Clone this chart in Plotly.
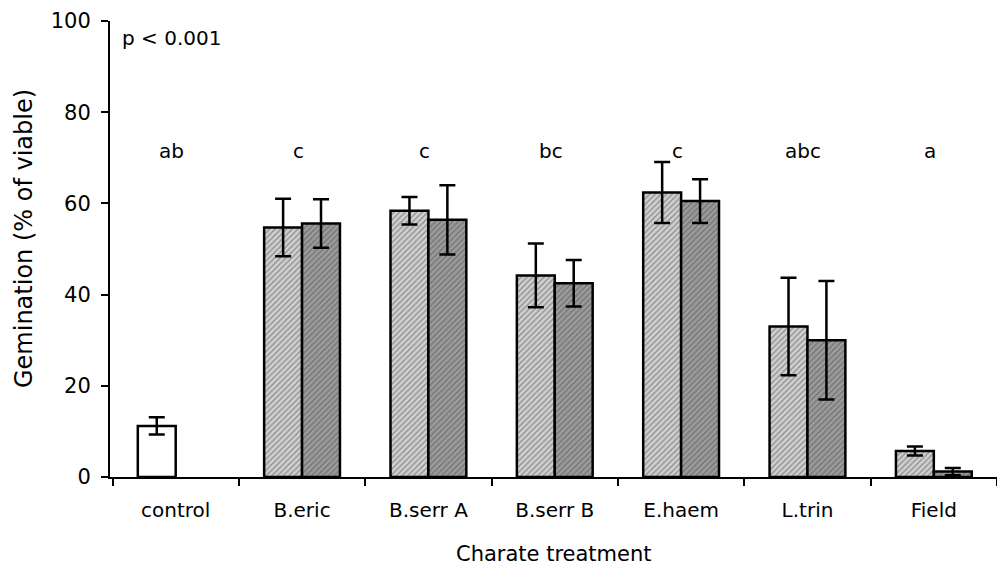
import plotly.graph_objects as go

# Germination of viable seed by charate treatment (two bars per treatment)
categories = ["control", "B.eric", "B.serr A", "B.serr B", "E.haem", "L.trin", "Field"]
series_a = [11.2, 54.7, 58.4, 44.2, 62.4, 33.0, 5.7]
series_a_err = [1.9, 6.3, 3.0, 7.0, 6.7, 10.7, 1.0]
series_b = [None, 55.6, 56.4, 42.5, 60.5, 30.0, 1.2]
series_b_err = [None, 5.3, 7.6, 5.1, 4.8, 13.0, 0.8]
group_letters = ["ab", "c", "c", "bc", "c", "abc", "a"]
letter_level = 71.5
y_ticks = [0, 20, 40, 60, 80, 100]

FONT = "DejaVu Sans"
LIGHT_BG, LIGHT_FG = "#d0d0d0", "#8c8c8c"
DARK_BG, DARK_FG = "#9c9c9c", "#4c4c4c"

a_colors = ["white"] + [LIGHT_BG] * (len(categories) - 1)
a_shapes = [""] + ["/"] * (len(categories) - 1)
a_fg = ["black"] + [LIGHT_FG] * (len(categories) - 1)

fig = go.Figure()
fig.add_trace(go.Bar(
    x=categories, y=series_a,
    marker=dict(
        color=a_colors,
        line=dict(color="black", width=2.5),
        pattern=dict(shape=a_shapes, fgcolor=a_fg, bgcolor=a_colors,
                     size=4, solidity=0.3, fillmode="overlay"),
    ),
    error_y=dict(type="data", array=series_a_err, visible=True,
                 color="black", thickness=2.5, width=8),
    showlegend=False,
))
fig.add_trace(go.Bar(
    x=categories, y=series_b,
    marker=dict(
        color=DARK_BG,
        line=dict(color="black", width=2.5),
        pattern=dict(shape="/", fgcolor=DARK_FG, bgcolor=DARK_BG,
                     size=4, solidity=0.35, fillmode="overlay"),
    ),
    error_y=dict(type="data", array=series_b_err, visible=True,
                 color="black", thickness=2.5, width=8),
    showlegend=False,
))

annotations = []
for cat, letter in zip(categories, group_letters):
    annotations.append(dict(
        x=cat, y=letter_level, xref="x", yref="y", text=letter,
        showarrow=False, xshift=-4, font=dict(family=FONT, size=20, color="black"),
    ))
annotations.append(dict(
    x=0.011, y=96.3, xref="paper", yref="y", text="p < 0.001",
    xanchor="left", yanchor="middle", showarrow=False,
    font=dict(family=FONT, size=20, color="black"),
))
annotations.append(dict(
    x=0.5, y=-0.169, xref="paper", yref="paper", text="Charate treatment",
    xanchor="center", yanchor="middle", showarrow=False,
    font=dict(family=FONT, size=21, color="black"),
))
annotations.append(dict(
    x=-0.097, y=0.524, xref="paper", yref="paper", text="Gemination (% of viable)",
    xanchor="center", yanchor="middle", showarrow=False, textangle=-90,
    font=dict(family=FONT, size=24, color="black"),
))

fig.update_layout(
    width=997, height=569,
    margin=dict(l=110, r=0, t=21, b=92),
    paper_bgcolor="white", plot_bgcolor="white",
    barmode="group", bargap=0.4, bargroupgap=0,
    annotations=annotations,
    font=dict(family=FONT, size=20, color="black"),
)
fig.update_xaxes(
    type="category", range=[-0.52, 6.5],
    showline=True, linecolor="black", linewidth=2,
    ticks="outside", tickson="boundaries", ticklen=7, tickwidth=2, tickcolor="black",
    ticklabelstandoff=14, showgrid=False, zeroline=False,
    tickfont=dict(family=FONT, size=20, color="black"),
)
fig.update_yaxes(
    range=[0, 100], tickvals=y_ticks,
    showline=True, linecolor="black", linewidth=2,
    ticks="outside", ticklen=7, tickwidth=2, tickcolor="black",
    ticklabelstandoff=6, showgrid=False, zeroline=False,
    tickfont=dict(family=FONT, size=21, color="black"),
)

fig.write_html("out.html")
